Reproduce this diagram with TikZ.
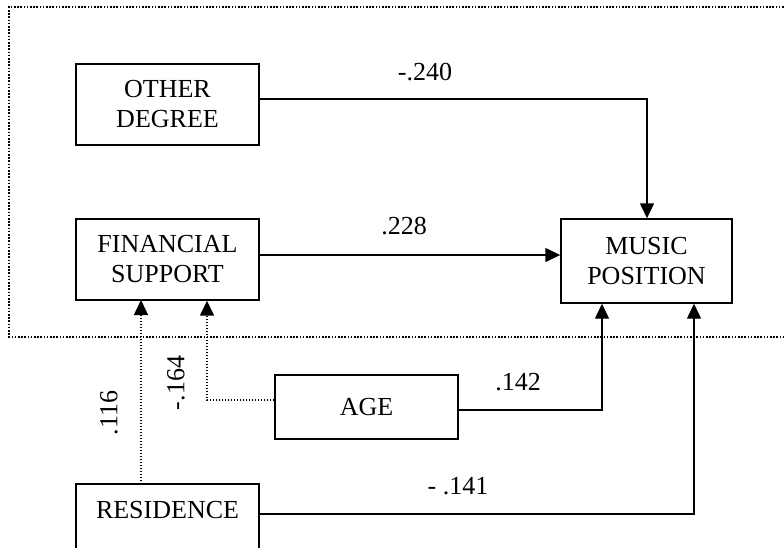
\documentclass[tikz,border=0pt]{standalone}
\usepackage{fontspec}
\setmainfont{Liberation Serif}
\usetikzlibrary{arrows.meta}
\begin{document}
\begin{tikzpicture}[x=1pt,y=-1pt,
  box/.style={draw,line width=1.4pt,inner sep=0pt,align=center,font=\fontsize{26}{30}\selectfont},
  lab/.style={font=\fontsize{26}{30}\selectfont,inner sep=0pt},
  conn/.style={line width=1.4pt,-{Triangle[length=15pt,width=14pt]}},
  dconn/.style={line width=1.5pt,dash pattern=on 1.5pt off 1.5pt,-{Triangle[length=15pt,width=14pt]}}]
\useasboundingbox (0,0) rectangle (784,547);
\draw[line width=1.6pt,dash pattern=on 1.6pt off 1.6pt] (790,7) -- (9,7) -- (9,337) -- (790,337);
\node[box,minimum width=183pt,minimum height=81pt] (od) at (167.5,104.5) {OTHER\\DEGREE};
\node[box,minimum width=183pt,minimum height=81pt] (fs) at (167.5,259.5) {FINANCIAL\\SUPPORT};
\node[box,minimum width=171pt,minimum height=84pt] (mp) at (646.5,261) {MUSIC\\POSITION};
\node[box,minimum width=183pt,minimum height=64pt] (age) at (366.5,407) {AGE};
\node[box,minimum width=183pt,minimum height=80pt] (res) at (167.5,524) {};
\node[font=\fontsize{26}{30}\selectfont,inner sep=0pt] (restxt) at (167.5,510) {RESIDENCE};
\coordinate (c1) at (647,99);
\coordinate (c2) at (602,410);
\coordinate (c3) at (694,514);
\coordinate (c4) at (207,400);
\draw[conn] (od.east |- c1) -- (c1) -- (c1 |- mp.north);
\draw[conn] (fs.east |- 0,255) -- (mp.west |- 0,255);
\draw[conn] (age.east |- c2) -- (c2) -- (c2 |- mp.south);
\draw[conn] (res.east |- c3) -- (c3) -- (c3 |- mp.south);
\draw[dconn] (141,484) -- (141,300);
\draw[dconn] (age.west |- c4) -- (c4) -- (c4 |- fs.south);
\node[lab] (l1) at (425,72) {-.240};
\node[lab] (l2) at (404,226) {.228};
\node[lab] (l3) at (518,382) {.142};
\node[lab] (l4) at (458,486) {- .141};
\node[lab,rotate=90] (l5) at (109,413) {.116};
\node[lab,rotate=90] (l6) at (176,383) {-.164};
\end{tikzpicture}
\end{document}
